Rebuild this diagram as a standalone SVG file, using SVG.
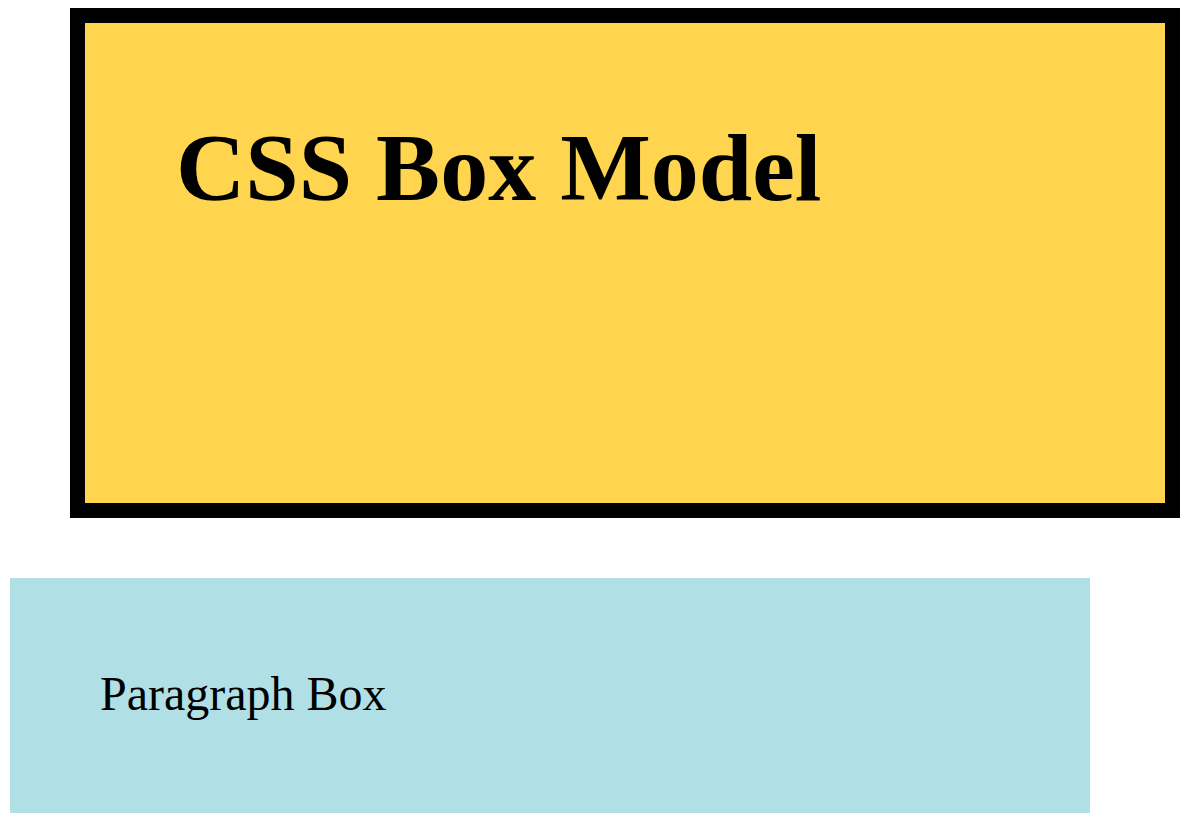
<svg xmlns="http://www.w3.org/2000/svg" width="1190" height="840" viewBox="0 0 1190 840">
<style>
.t{font-family:"Liberation Serif","Times New Roman",serif;fill:#000}
.title{font-size:96px;font-weight:bold}
.para{font-size:48px}
</style>
<rect width="1190" height="840" fill="#fff"/>
<g id="box-model">
<rect x="77.5" y="15.5" width="1095" height="495" fill="#ffd54f" stroke="#000" stroke-width="15"/>
<text class="t title" x="176" y="200">CSS Box Model</text>
</g>
<g id="paragraph-box">
<rect x="10" y="578" width="1080" height="235" fill="#b0e0e6"/>
<text class="t para" x="100" y="710">Paragraph Box</text>
</g>
<g id="connectors"></g>
</svg>
